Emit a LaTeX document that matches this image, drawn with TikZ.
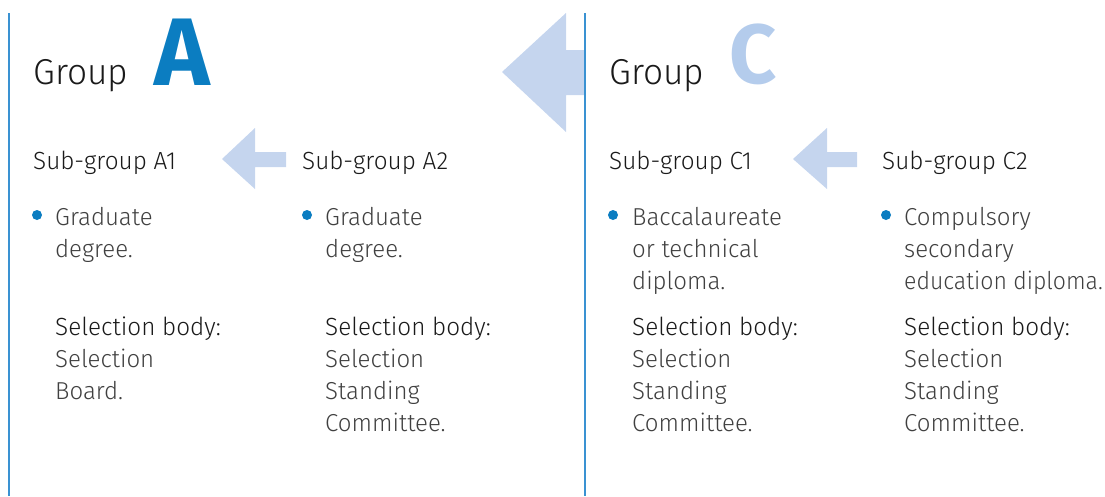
\documentclass[tikz,border=0pt]{standalone}
\usepackage{fontspec}
\setmainfont{Fira Sans}[UprightFont=* Light, BoldFont=* Bold, FakeStretch=0.98]
\newfontfamily\narrowfont{Fira Sans Light}[FakeStretch=0.94]
\definecolor{blueA}{HTML}{0B7DC1}
\definecolor{lineblue}{HTML}{3A92D2}
\definecolor{arrowblue}{HTML}{C5D5EE}
\definecolor{Cblue}{HTML}{B4CCEC}
\definecolor{headtext}{HTML}{1A1A1A}
\definecolor{bodytext}{HTML}{404040}
\tikzset{
  txt/.style={inner sep=0pt, anchor=base west},
  grp/.style={txt, text=headtext, font=\fontsize{36}{40}\selectfont},
  sub/.style={txt, text=headtext, font=\fontsize{24.8}{30}\selectfont},
  body/.style={txt, text=bodytext, font=\fontsize{24.5}{30}\selectfont},
  bullet/.style={circle, fill=blueA, inner sep=0pt, minimum size=10pt},
  divider/.style={draw=lineblue, line width=1.6pt},
  bigarrow/.style={fill=arrowblue},
}
\begin{document}
\begin{tikzpicture}[x=1pt,y=-1pt]
\useasboundingbox (0,0) rectangle (1105,496);
% dividers
\draw[divider] (9,13) -- (9,496);
% big arrow
\fill[bigarrow] (502,72) -- (566,13) -- (566,50) -- (585,50) -- (585,95) -- (566,95) -- (566,132) -- cycle;
\draw[divider] (585,13) -- (585,496);
% small arrows
\fill[bigarrow] (222,159) -- (255,128) -- (255,152) -- (286,152) -- (286,167) -- (255,167) -- (255,189) -- cycle;
\fill[bigarrow] (793,159) -- (827,128) -- (827,152) -- (857,152) -- (857,167) -- (827,167) -- (827,189) -- cycle;
% group headings
\node[grp] (gA) at (33,84) {Group};
\node[txt, text=blueA, font=\fontsize{96}{100}\selectfont\bfseries] (lA) at (154,85) {A};
\node[grp] (gC) at (609,84) {Group};
\node[txt, text=Cblue, font=\fontsize{84}{90}\selectfont\bfseries] (lC) at (729,83) {C};
% A1
\node[sub] (a1h) at (33,169) {Sub-group A1};
\node[bullet] (a1b) at (37,215) {};
\node[body] (a1l1) at (55,225) {Graduate};
\node[body] (a1l2) at (55,257) {degree.};
\node[sub] (a1s) at (55,335) {Selection body:};
\node[body] (a1s1) at (55,367) {Selection};
\node[body] (a1s2) at (55,399) {Board.};
% A2
\node[sub] (a2h) at (302,169) {Sub-group A2};
\node[bullet] (a2b) at (307,215) {};
\node[body] (a2l1) at (325,225) {Graduate};
\node[body] (a2l2) at (325,257) {degree.};
\node[sub] (a2s) at (325,335) {Selection body:};
\node[body] (a2s1) at (325,367) {Selection};
\node[body] (a2s2) at (325,399) {Standing};
\node[body] (a2s3) at (325,431) {Committee.};
% C1
\node[sub] (c1h) at (609,169) {Sub-group C1};
\node[bullet] (c1b) at (613,215) {};
\node[body] (c1l1) at (632,225) {Baccalaureate};
\node[body] (c1l2) at (632,257) {or technical};
\node[body] (c1l3) at (632,289) {diploma.};
\node[sub] (c1s) at (632,335) {Selection body:};
\node[body] (c1s1) at (632,367) {Selection};
\node[body] (c1s2) at (632,399) {Standing};
\node[body] (c1s3) at (632,431) {Committee.};
% C2
\node[sub] (c2h) at (882,169) {Sub-group C2};
\node[bullet] (c2b) at (886,215) {};
\node[body] (c2l1) at (904,225) {Compulsory};
\node[body] (c2l2) at (904,257) {secondary};
\node[body, font=\fontsize{24.5}{30}\narrowfont] (c2l3) at (904,289) {education diploma.};
\node[sub] (c2s) at (904,335) {Selection body:};
\node[body] (c2s1) at (904,367) {Selection};
\node[body] (c2s2) at (904,399) {Standing};
\node[body] (c2s3) at (904,431) {Committee.};
\end{tikzpicture}
\end{document}
